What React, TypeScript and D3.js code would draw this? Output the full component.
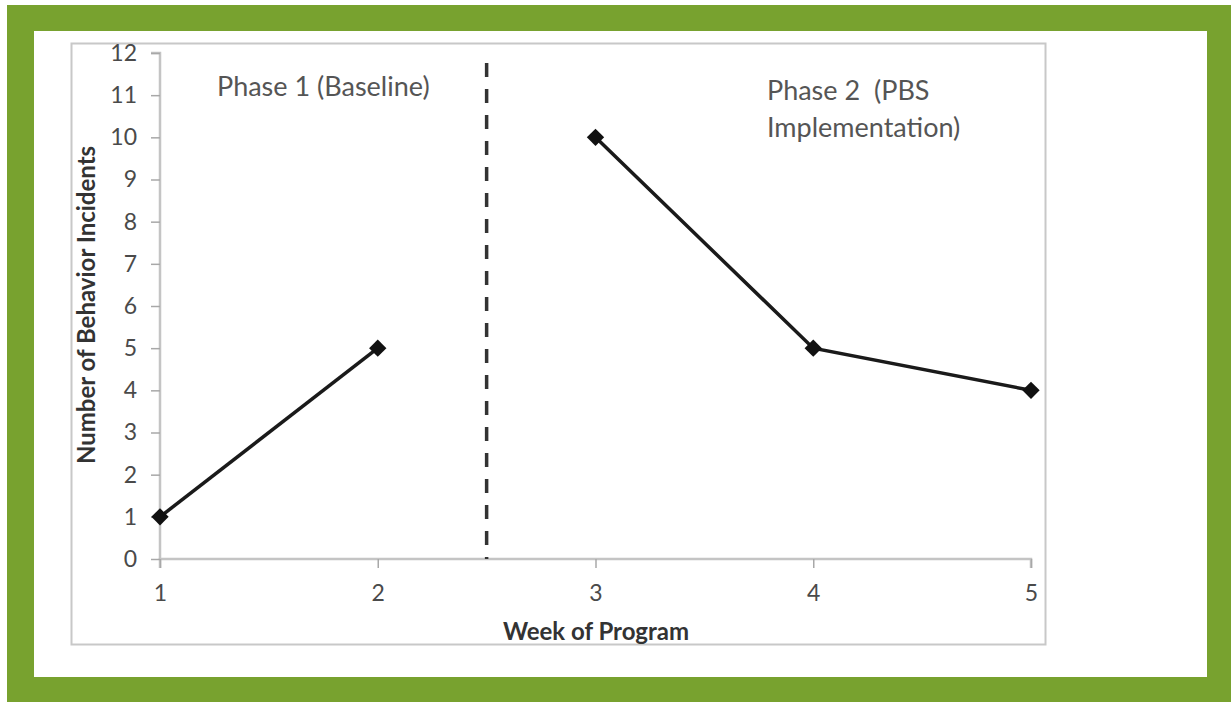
import { useEffect, useRef } from "react"
import * as d3 from "d3"

const weeks = [1, 2, 3, 4, 5]
const yTicks = d3.range(0, 13)
const baseline = [
  { week: 1, incidents: 1 },
  { week: 2, incidents: 5 },
]
const intervention = [
  { week: 3, incidents: 10 },
  { week: 4, incidents: 5 },
  { week: 5, incidents: 4 },
]
const phaseSplit = 2.5
const phase1Label = ["Phase 1 (Baseline)"]
const phase2Label = ["Phase 2  (PBS", "Implementation)"]

const W = 1231
const H = 702
const FONT = "Lato, 'Open Sans', sans-serif"

export default function App() {
  const svgRef = useRef<SVGSVGElement>(null)

  useEffect(() => {
    if (!svgRef.current) return
    const svg = d3.select(svgRef.current)
    svg.selectAll("*").remove()

    // frame: green border, white panel, light chart box
    svg.append("rect").attr("width", W).attr("height", H).attr("fill", "#fff")
    svg.append("rect").attr("x", 7).attr("y", 5).attr("width", W - 7).attr("height", H - 5).attr("fill", "#78a22f")
    svg.append("rect").attr("x", 34).attr("y", 31).attr("width", 1173).attr("height", 646).attr("fill", "#fff")
    svg.append("rect")
      .attr("x", 71.5).attr("y", 43.5).attr("width", 974).attr("height", 601)
      .attr("fill", "none").attr("stroke", "#c8c8c8").attr("stroke-width", 2)

    const x = d3.scaleLinear().domain([1, 5]).range([160, 1031])
    const y = d3.scaleLinear().domain([0, 12]).range([559, 53])

    const g = svg.append("g")

    // axes
    const xAxis = g.append("g")
      .attr("transform", `translate(0,${y(0)})`)
      .call(d3.axisBottom(x).tickValues(weeks).tickFormat(d3.format("d")).tickSize(9).tickPadding(17))
    const yAxis = g.append("g")
      .attr("transform", `translate(${x(1)},0)`)
      .call(d3.axisLeft(y).tickValues(yTicks).tickFormat(d3.format("d")).tickSize(9).tickPadding(14))

    ;[xAxis, yAxis].forEach((a) => {
      a.select(".domain").attr("stroke", "#c4c4c4").attr("stroke-width", 2.5)
      a.selectAll(".tick line").attr("stroke", "#a8a8a8").attr("stroke-width", 1.5)
      a.selectAll("text")
        .style("fill", "#4a4a4a")
        .style("font-size", "23px")
        .style("font-family", FONT)
    })
    xAxis.select(".domain").attr("d", `M${x(1)},9V0H${x(5)}V9`)
    yAxis.select(".domain").attr("d", `M-9,${y(12)}H0V${y(0)}`)

    // phase divider
    g.append("line")
      .attr("x1", x(phaseSplit)).attr("x2", x(phaseSplit))
      .attr("y1", 63).attr("y2", y(0))
      .attr("stroke", "#333").attr("stroke-width", 3.5)
      .attr("stroke-dasharray", "14,12")

    // series
    const line = d3.line<{ week: number; incidents: number }>()
      .x((d) => x(d.week))
      .y((d) => y(d.incidents))
    const marker = d3.symbol().type(d3.symbolSquare).size(150)

    ;[baseline, intervention].forEach((series) => {
      g.append("path")
        .datum(series)
        .attr("d", line)
        .attr("fill", "none")
        .attr("stroke", "#1a1a1a")
        .attr("stroke-width", 3.5)
      g.selectAll(null)
        .data(series)
        .join("path")
        .attr("transform", (d) => `translate(${x(d.week)},${y(d.incidents)}) rotate(45)`)
        .attr("d", marker)
        .attr("fill", "#111")
    })

    // phase labels
    const labelStyle = (t: d3.Selection<SVGTextElement, unknown, null, undefined>) =>
      t.style("fill", "#555").style("font-size", "27px").style("font-family", FONT)

    phase1Label.forEach((s, i) => {
      labelStyle(g.append("text").attr("x", 217).attr("y", 96 + i * 37).text(s))
    })
    phase2Label.forEach((s, i) => {
      labelStyle(g.append("text").attr("x", 767).attr("y", 100 + i * 37).attr("xml:space", "preserve").text(s))
    })

    // axis titles
    g.append("text")
      .attr("x", 596).attr("y", 640)
      .attr("text-anchor", "middle")
      .style("fill", "#333").style("font-size", "24px").style("font-weight", "bold")
      .style("font-family", FONT)
      .text("Week of Program")
    g.append("text")
      .attr("transform", `translate(95,305) rotate(-90)`)
      .attr("text-anchor", "middle")
      .style("fill", "#333").style("font-size", "24px").style("font-weight", "bold")
      .style("font-family", FONT)
      .text("Number of Behavior Incidents")
  }, [])

  return (
    <div style={{ position: "absolute", left: 0, top: 0 }}>
      <svg ref={svgRef} width={W} height={H} style={{ display: "block" }} />
    </div>
  )
}
